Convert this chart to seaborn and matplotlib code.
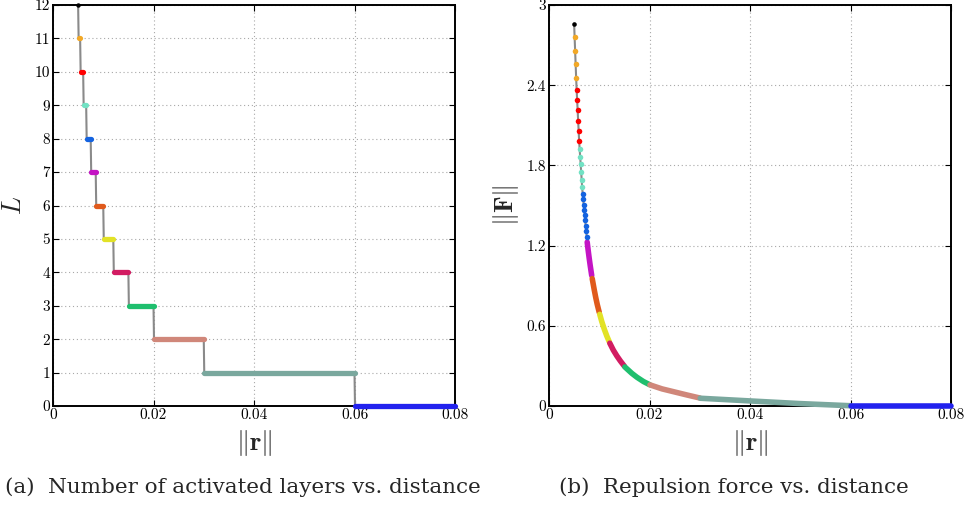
import numpy as np
import pandas as pd
import matplotlib
matplotlib.use("Agg")
import matplotlib.pyplot as plt
import seaborn as sns

# ---------------- data ----------------
levels = [12, 11, 10, 9, 8, 7, 6, 5, 4, 3, 2, 1, 0]
r_start = [0.0050, 0.0051, 0.0055, 0.0061, 0.0067, 0.0076, 0.0086,
           0.0101, 0.0121, 0.0151, 0.0201, 0.0301, 0.0601]
r_end = [0.0050, 0.0054, 0.0060, 0.0066, 0.0075, 0.0085, 0.0100,
         0.0120, 0.0150, 0.0200, 0.0300, 0.0600, 0.0800]
level_colors = ["#000000", "#f2a826", "#ff0000", "#72e2c4", "#1463e0",
                "#c414c4", "#e05a1c", "#e2e226", "#d21c62", "#1fbf6e",
                "#d0877a", "#7aa89e", "#2222ee"]

# force: individually visible samples (levels 12..8)
r_dots = [0.0050, 0.0051, 0.0052, 0.0053, 0.0054, 0.0055, 0.0056, 0.0057,
          0.0058, 0.0059, 0.0060, 0.0061, 0.0062, 0.0063, 0.0064, 0.0065,
          0.0066, 0.0067, 0.0068, 0.0069, 0.0070, 0.0071, 0.0072, 0.0073,
          0.0074, 0.0075]
F_dots = [2.860, 2.758, 2.658, 2.558, 2.456, 2.367, 2.289, 2.212,
          2.135, 2.058, 1.981, 1.921, 1.866, 1.809, 1.751, 1.694,
          1.637, 1.587, 1.547, 1.507, 1.467, 1.428, 1.388, 1.348,
          1.308, 1.268]
dot_levels = [12, 11, 11, 11, 11, 10, 10, 10, 10, 10, 10, 9, 9, 9, 9, 9,
              9, 8, 8, 8, 8, 8, 8, 8, 8, 8]

# force: dense parts (levels 7..0) read as polylines
seg_levels = [7, 6, 5, 4, 3, 2, 1, 0]
seg_r = [
    [0.0076, 0.0078, 0.0080, 0.0082, 0.0085],
    [0.0086, 0.0090, 0.0093, 0.0096, 0.0100],
    [0.0101, 0.0105, 0.0110, 0.0115, 0.0120],
    [0.0121, 0.0128, 0.0135, 0.0142, 0.0150],
    [0.0151, 0.0165, 0.0175, 0.0188, 0.0200],
    [0.0201, 0.0225, 0.0250, 0.0275, 0.0300],
    [0.0301, 0.0400, 0.0500, 0.0600],
    [0.0601, 0.0800],
]
seg_F = [
    [1.226, 1.163, 1.105, 1.051, 0.976],
    [0.953, 0.870, 0.812, 0.760, 0.700],
    [0.686, 0.632, 0.575, 0.524, 0.480],
    [0.470, 0.418, 0.375, 0.337, 0.298],
    [0.292, 0.244, 0.215, 0.183, 0.160],
    [0.158, 0.128, 0.105, 0.082, 0.060],
    [0.058, 0.038, 0.018, 0.002],
    [0.000, 0.000],
]

xtick_vals = [0, 0.02, 0.04, 0.06, 0.08]
xtick_labels = ["0", "0.02", "0.04", "0.06", "0.08"]
ytickL_vals = list(range(0, 13))
ytickF_vals = [0, 0.6, 1.2, 1.8, 2.4, 3.0]
ytickF_labels = ["0", "0.6", "1.2", "1.8", "2.4", "3"]
captions = ["(a)  Number of activated layers vs. distance",
            "(b)  Repulsion force vs. distance"]

# ---------------- style ----------------
sns.set_theme(style="ticks")
plt.rcParams["font.family"] = ["DejaVu Serif"]
plt.rcParams["mathtext.fontset"] = "cm"
plt.rcParams["axes.formatter.use_mathtext"] = True

color_of = dict(zip(levels, level_colors))

fig = plt.figure(figsize=(9.66, 5.08), dpi=100)
axL = fig.add_axes([53 / 966, 1 - 406 / 508, 402 / 966, 401 / 508])
axR = fig.add_axes([549 / 966, 1 - 406 / 508, 402 / 966, 401 / 508])

tick_font = {"family": "cmr10", "size": 11}
label_fs = 19

# ---------- left panel ----------
step_x, step_y = [], []
for lv, a, b in zip(levels, r_start, r_end):
    step_x += [a, b]
    step_y += [lv, lv]
step_df = pd.DataFrame({"r": step_x, "L": step_y})
sns.lineplot(data=step_df, x="r", y="L", sort=False, estimator=None,
             color="#8a8a8a", lw=1.5, ax=axL, zorder=2)
for lv, a, b in zip(levels, r_start, r_end):
    if a == b:
        axL.plot([a], [lv], "o", color=color_of[lv], ms=3.2, mew=0,
                 zorder=4, clip_on=False)
    else:
        axL.plot([a, b], [lv, lv], color=color_of[lv], lw=3.8,
                 solid_capstyle="round", zorder=3, clip_on=False)

# ---------- right panel ----------
all_r = list(r_dots)
all_F = list(F_dots)
for rr, ff in zip(seg_r, seg_F):
    all_r += rr
    all_F += ff
line_df = pd.DataFrame({"r": all_r, "F": all_F})
sns.lineplot(data=line_df, x="r", y="F", sort=False, estimator=None,
             color="#8a8a8a", lw=1.5, ax=axR, zorder=2)
dot_df = pd.DataFrame({"r": r_dots, "F": F_dots, "lv": dot_levels})
for lv in sorted(set(dot_levels), reverse=True):
    sub = dot_df[dot_df.lv == lv]
    axR.plot(sub.r, sub.F, "o", ls="none", color=color_of[lv],
             ms=3.3 if lv == 12 else 4.0, mew=0, zorder=4, clip_on=False)
for lv, rr, ff in zip(seg_levels, seg_r, seg_F):
    axR.plot(rr, ff, color=color_of[lv], lw=4.0, solid_capstyle="round",
             solid_joinstyle="round", zorder=3, clip_on=False)

# ---------- axes styling ----------
for ax, yv, yl, ylim in [(axL, ytickL_vals, [str(v) for v in ytickL_vals], (0, 12)),
                         (axR, ytickF_vals, ytickF_labels, (0, 3))]:
    ax.set_xlim(0, 0.08)
    ax.set_ylim(*ylim)
    ax.set_xticks(xtick_vals)
    ax.set_xticklabels(xtick_labels, fontdict=tick_font)
    ax.set_yticks(yv)
    ax.set_yticklabels(yl, fontdict=tick_font)
    ax.tick_params(direction="in", length=4, width=0.8, top=True, right=True,
                   pad=2, colors="black")
    ax.grid(True, ls=(0, (1, 2.5)), lw=0.8, color="#a8a8a8")
    ax.set_axisbelow(True)
    for s in ax.spines.values():
        s.set_visible(True)
        s.set_color("black")
        s.set_linewidth(1.4)
    ax.set_facecolor("white")
    ax.set_xlabel(r"$\|\mathbf{r}\|$", fontsize=label_fs, labelpad=4)

axL.set_ylabel(r"$L$", fontsize=label_fs, labelpad=6)
axR.set_ylabel(r"$\|\mathbf{F}\|$", fontsize=label_fs, labelpad=4)

fig.text(243 / 966, 1 - 487 / 508, captions[0], ha="center", va="center",
         fontsize=15.4, family="DejaVu Serif")
fig.text(734 / 966, 1 - 487 / 508, captions[1], ha="center", va="center",
         fontsize=15.4, family="DejaVu Serif")

fig.savefig("out.png", dpi=100, facecolor="white")
